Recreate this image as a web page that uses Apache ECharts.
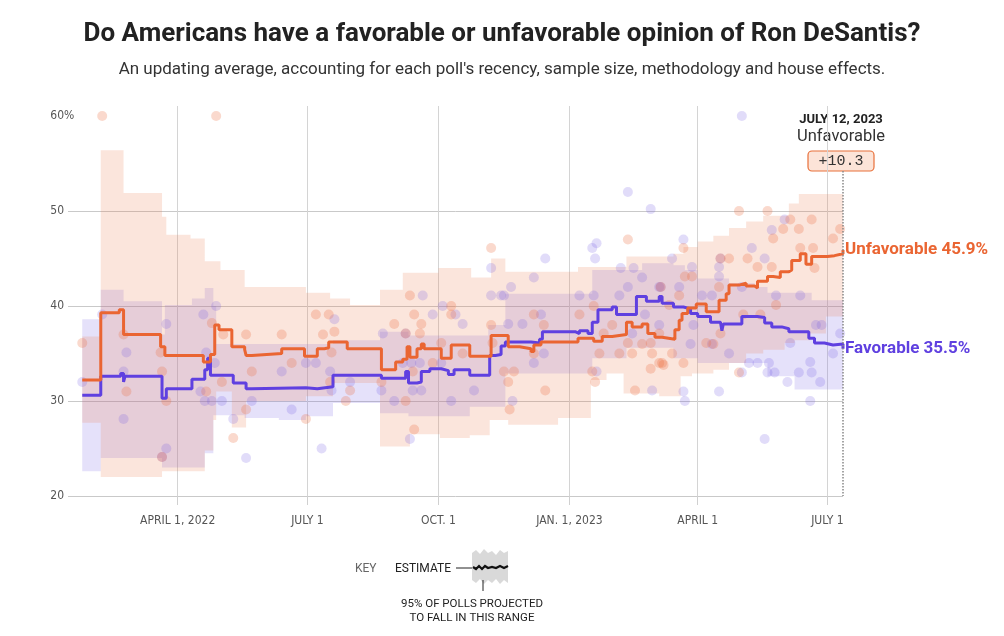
<!DOCTYPE html>
<html><head><meta charset="utf-8">
<script src="https://cdn.jsdelivr.net/npm/echarts@6/dist/echarts.min.js"></script>
<style>html,body{margin:0;padding:0;background:#fff}#chart{width:1004px;height:636px}</style>
</head><body><div id="chart"></div>
<script>
// ---------- DATA ----------
const tickDates  = ['2022-04-01','2022-07-01','2022-10-01','2023-01-01','2023-04-01','2023-07-01'];
const tickLabels = ['APRIL 1, 2022','JULY 1','OCT. 1','JAN. 1, 2023','APRIL 1','JULY 1'];
const yTicks = [20, 30, 40, 50, 60];
const startDate = '2022-01-14';
const endDate = '2023-07-12';
const endLabelDate = 'JULY 12, 2023';
const leaderName = 'Unfavorable';
const leaderMargin = '+10.3';

const unfavLine = [['2022-01-24',32.2],['2022-02-06',39.3],['2022-02-19',39.6],['2022-02-22',37.0],['2022-03-20',35.7],['2022-03-23',34.8],['2022-04-19',34.1],['2022-04-24',34.9],['2022-04-27',38.0],['2022-04-30',37.5],['2022-05-09',35.7],['2022-05-18',35.4],['2022-05-19',34.8],['2022-05-23',35.0],['2022-06-13',35.5],['2022-06-29',34.7],['2022-07-08',35.5],['2022-07-13',35.6],['2022-07-16',36.2],['2022-07-29',35.5],['2022-08-22',33.3],['2022-09-01',34.1],['2022-09-06',34.4],['2022-09-09',35.7],['2022-09-11',34.6],['2022-09-16',35.5],['2022-09-19',36.0],['2022-09-21',35.5],['2022-10-03',34.5],['2022-10-10',35.9],['2022-10-23',34.7],['2022-11-07',36.9],['2022-11-19',35.7],['2022-11-27',35.5],['2022-12-05',35.2],['2022-12-07',35.9],['2022-12-12',36.2],['2023-01-07',36.6],['2023-01-18',36.3],['2023-01-24',36.8],['2023-01-31',37.0],['2023-02-10',38.3],['2023-02-14',37.8],['2023-02-21',38.1],['2023-02-25',37.1],['2023-03-02',36.7],['2023-03-07',36.5],['2023-03-16',37.5],['2023-03-19',38.5],['2023-03-21',39.2],['2023-03-25',39.8],['2023-03-31',40.2],['2023-04-07',39.4],['2023-04-16',40.6],['2023-04-21',41.3],['2023-04-23',42.2],['2023-04-30',42.4],['2023-05-05',42.1],['2023-05-11',41.9],['2023-05-13',42.6],['2023-05-20',43.1],['2023-05-24',43.0],['2023-05-29',43.6],['2023-06-04',43.8],['2023-06-06',44.8],['2023-06-12',45.5],['2023-06-16',44.4],['2023-06-20',45.2],['2023-07-01',45.3],['2023-07-06',45.5],['2023-07-12',45.9]];

const favLine = [['2022-01-24',30.6],['2022-02-06',32.6],['2022-02-20',32.9],['2022-02-22',32.0],['2022-02-23',32.6],['2022-03-21',30.3],['2022-03-24',31.3],['2022-04-11',32.3],['2022-04-20',33.3],['2022-04-22',34.5],['2022-04-24',32.7],['2022-05-10',31.9],['2022-05-19',31.3],['2022-05-23',31.4],['2022-06-30',31.3],['2022-07-08',31.5],['2022-07-19',32.7],['2022-08-22',32.4],['2022-09-08',33.1],['2022-09-10',31.9],['2022-09-16',32.0],['2022-09-19',33.1],['2022-09-25',33.4],['2022-10-03',33.2],['2022-10-08',32.8],['2022-10-12',33.3],['2022-10-23',32.7],['2022-11-06',34.8],['2022-11-10',34.9],['2022-11-14',35.8],['2022-11-17',36.2],['2022-12-05',36.1],['2022-12-11',36.5],['2022-12-13',37.3],['2023-01-05',37.1],['2023-01-08',37.4],['2023-01-14',37.1],['2023-01-17',38.3],['2023-01-21',39.6],['2023-01-31',39.9],['2023-02-03',39.1],['2023-02-17',41.0],['2023-02-24',40.5],['2023-03-05',41.0],['2023-03-07',40.3],['2023-03-15',39.9],['2023-03-22',39.7],['2023-03-27',39.2],['2023-04-01',38.9],['2023-04-10',38.3],['2023-04-17',38.1],['2023-04-18',37.4],['2023-04-19',38.1],['2023-05-02',38.9],['2023-05-13',38.8],['2023-05-18',38.2],['2023-05-23',37.8],['2023-05-30',37.6],['2023-06-04',37.3],['2023-06-18',36.6],['2023-06-22',36.1],['2023-06-29',35.9],['2023-07-05',36.0],['2023-07-12',35.5]];

const unfavUpper = [['2022-01-24',36.8],['2022-02-06',56.4],['2022-02-22',51.9],['2022-03-21',49.4],['2022-03-24',47.5],['2022-04-10',47.1],['2022-04-20',44.7],['2022-05-01',43.8],['2022-05-18',42.0],['2022-06-30',41.4],['2022-07-17',40.8],['2022-07-31',40.1],['2022-08-21',41.7],['2022-09-06',43.5],['2022-10-01',44.0],['2022-10-24',43.0],['2022-11-07',45.0],['2022-11-17',43.6],['2023-01-07',44.1],['2023-02-10',45.2],['2023-03-15',45.5],['2023-03-22',46.2],['2023-04-01',46.8],['2023-04-12',47.4],['2023-04-23',48.2],['2023-05-05',48.9],['2023-05-17',49.5],['2023-06-04',50.8],['2023-06-11',51.8],['2023-07-12',51.8]];
const unfavLower = [['2022-01-24',27.7],['2022-02-06',22.0],['2022-03-21',22.6],['2022-04-20',24.8],['2022-04-26',28.0],['2022-04-28',31.0],['2022-05-09',27.2],['2022-05-19',30.0],['2022-06-30',30.5],['2022-07-19',31.9],['2022-08-21',25.2],['2022-09-11',26.5],['2022-10-02',26.1],['2022-10-23',26.4],['2022-11-06',28.0],['2022-11-19',27.5],['2022-12-24',28.2],['2023-01-16',32.2],['2023-01-27',32.9],['2023-02-08',30.8],['2023-03-05',30.5],['2023-03-20',32.6],['2023-03-28',32.9],['2023-04-12',33.3],['2023-04-23',34.0],['2023-05-05',35.0],['2023-05-17',35.4],['2023-06-01',36.1],['2023-06-08',36.4],['2023-06-19',37.1],['2023-06-30',38.9],['2023-07-12',39.2]];
const favUpper = [['2022-01-24',38.6],['2022-02-06',41.7],['2022-02-22',40.5],['2022-03-21',37.0],['2022-03-23',40.1],['2022-04-11',40.8],['2022-04-20',41.9],['2022-04-26',40.0],['2022-04-28',36.0],['2022-07-19',36.4],['2022-08-21',37.3],['2022-09-10',36.9],['2022-11-05',38.0],['2022-11-17',41.3],['2023-01-17',43.8],['2023-02-21',44.5],['2023-03-15',44.3],['2023-03-23',43.8],['2023-04-01',42.9],['2023-04-23',42.4],['2023-05-11',42.0],['2023-05-20',41.4],['2023-06-20',40.6],['2023-07-12',40.6]];
const favLower = [['2022-01-24',22.6],['2022-02-06',24.0],['2022-03-21',23.0],['2022-04-20',24.5],['2022-04-26',28.5],['2022-05-18',28.2],['2022-06-11',28.0],['2022-06-30',28.4],['2022-07-19',29.8],['2022-08-21',28.7],['2022-09-10',28.4],['2022-10-23',29.4],['2022-11-17',32.9],['2023-01-17',34.5],['2023-02-10',35.6],['2023-03-15',34.5],['2023-04-01',34.0],['2023-05-20',32.6],['2023-06-08',31.2],['2023-07-12',31.2]];

const unfavPolls = [['2022-01-24',36.1],['2022-02-07',60.0],['2022-02-22',37.0],['2022-02-24',31.0],['2022-03-20',35.1],['2022-03-21',33.1],['2022-03-24',30.0],['2022-03-21',24.1],['2022-04-25',38.2],['2022-04-28',60.0],['2022-05-03',37.0],['2022-04-21',31.0],['2022-05-02',32.0],['2022-05-19',37.0],['2022-05-23',33.1],['2022-05-19',29.1],['2022-05-10',26.1],['2022-06-13',37.0],['2022-06-20',34.0],['2022-06-30',28.1],['2022-07-07',39.1],['2022-07-16',39.1],['2022-07-12',37.0],['2022-07-20',37.3],['2022-07-18',35.1],['2022-07-31',31.1],['2022-07-28',30.0],['2022-07-17',32.0],['2022-08-22',32.0],['2022-08-31',38.1],['2022-09-11',41.1],['2022-09-14',39.1],['2022-09-19',38.1],['2022-09-18',37.1],['2022-09-08',37.1],['2022-09-13',33.1],['2022-09-08',30.0],['2022-09-14',27.0],['2022-09-27',34.0],['2022-10-03',36.1],['2022-10-10',40.0],['2022-10-10',39.1],['2022-10-18',35.0],['2022-11-07',46.1],['2022-11-07',38.0],['2022-12-07',39.1],['2022-12-14',38.0],['2022-11-08',36.1],['2022-11-19',32.0],['2022-11-16',33.1],['2022-11-23',33.1],['2022-11-20',29.1],['2022-12-15',31.1],['2022-12-07',35.0],['2023-01-19',32.0],['2023-01-17',33.1],['2023-01-22',35.0],['2023-01-25',37.1],['2023-01-31',38.0],['2023-02-05',35.0],['2023-02-14',35.0],['2023-02-11',47.0],['2023-02-11',36.1],['2023-02-16',31.1],['2023-02-21',36.0],['2023-02-27',36.1],['2023-02-28',35.0],['2023-03-05',34.0],['2023-02-27',33.4],['2023-03-08',33.8],['2023-01-08',39.1],['2023-01-18',40.0],['2023-04-30',50.0],['2023-05-20',50.0],['2023-06-05',49.1],['2023-06-20',49.1],['2023-07-10',48.1],['2023-05-31',48.1],['2023-06-11',48.1],['2023-05-24',47.1],['2023-07-05',47.1],['2023-06-12',46.1],['2023-06-21',46.1],['2023-04-17',45.0],['2023-04-23',45.0],['2023-05-06',45.0],['2023-05-13',44.1],['2023-05-23',44.1],['2023-06-22',44.0],['2023-03-22',46.1],['2023-03-23',43.1],['2023-03-28',43.1],['2023-04-16',42.0],['2023-05-26',40.1],['2023-03-12',40.1],['2023-03-06',42.0],['2023-03-19',41.1],['2023-05-03',39.1],['2023-05-15',39.1],['2023-04-07',36.1],['2023-03-14',35.0],['2023-03-07',34.0],['2023-03-22',34.0],['2023-04-30',33.0],['2023-04-17',37.1],['2023-04-12',36.0],['2023-03-05',37.1]];

const favPolls = [['2022-01-24',32.0],['2022-02-07',39.1],['2022-02-24',35.1],['2022-02-22',33.1],['2022-02-22',28.1],['2022-03-24',38.1],['2022-03-24',25.0],['2022-03-21',24.1],['2022-04-28',40.0],['2022-04-19',39.1],['2022-04-21',35.1],['2022-04-27',34.0],['2022-04-17',31.0],['2022-04-20',30.0],['2022-04-25',30.0],['2022-05-02',30.0],['2022-05-10',28.1],['2022-05-19',24.0],['2022-05-23',30.0],['2022-06-13',33.1],['2022-06-20',29.1],['2022-06-30',34.0],['2022-07-11',25.0],['2022-07-20',38.6],['2022-07-17',33.1],['2022-07-18',31.1],['2022-07-31',32.0],['2022-07-07',34.0],['2022-08-23',37.1],['2022-08-22',31.1],['2022-08-31',30.0],['2022-09-08',37.1],['2022-09-06',34.0],['2022-09-12',34.0],['2022-09-18',34.0],['2022-09-13',31.1],['2022-09-19',31.1],['2022-09-20',41.1],['2022-09-11',26.0],['2022-09-27',39.1],['2022-10-04',40.0],['2022-10-13',39.1],['2022-10-18',38.1],['2022-10-10',30.0],['2022-10-03',34.0],['2022-11-07',44.0],['2022-11-07',41.1],['2022-11-14',41.1],['2022-11-16',41.1],['2022-11-21',42.0],['2022-12-07',43.0],['2022-12-15',45.0],['2022-12-12',39.1],['2022-11-29',38.1],['2022-11-19',38.1],['2022-12-14',35.0],['2022-12-07',34.0],['2022-10-26',31.1],['2022-11-22',30.0],['2023-01-08',41.1],['2023-01-18',41.1],['2023-01-17',46.1],['2023-01-20',46.6],['2023-01-19',45.0],['2023-02-11',52.0],['2023-02-27',50.2],['2023-02-06',44.0],['2023-02-15',44.0],['2023-02-21',43.0],['2023-02-11',42.0],['2023-02-05',41.1],['2023-03-06',42.0],['2023-02-23',39.1],['2023-03-05',38.0],['2023-02-14',37.1],['2023-01-20',33.1],['2023-02-28',31.1],['2023-05-02',60.0],['2023-03-22',47.0],['2023-03-14',45.0],['2023-03-28',44.1],['2023-04-17',45.0],['2023-04-16',44.1],['2023-04-16',43.1],['2023-05-09',46.1],['2023-05-18',45.0],['2023-05-23',48.0],['2023-06-01',49.1],['2023-05-02',42.0],['2023-04-04',41.1],['2023-04-11',41.1],['2023-03-19',42.0],['2023-03-05',42.0],['2023-03-29',38.0],['2023-05-26',41.1],['2023-06-12',41.1],['2023-06-23',38.0],['2023-06-27',38.0],['2023-07-10',37.1],['2023-07-05',35.0],['2023-06-05',36.1],['2023-06-19',34.1],['2023-06-11',33.0],['2023-06-20',33.0],['2023-06-26',32.0],['2023-06-03',32.0],['2023-05-07',34.0],['2023-05-13',34.0],['2023-05-21',34.0],['2023-05-20',33.0],['2023-05-25',33.0],['2023-05-02',33.0],['2023-04-23',35.0],['2023-04-16',31.0],['2023-03-22',31.0],['2023-03-23',30.0],['2023-06-19',30.0],['2023-05-18',26.0],['2023-04-11',36.0],['2023-03-27',36.0]];

// ---------- STYLE ----------
const ORANGE = '#EA6532', PURPLE = '#5F40E0';
const COND = "'Liberation Sans Narrow','DejaVu Sans Condensed','Roboto Condensed',Roboto,sans-serif";
const SANS = "Roboto,'Noto Sans',sans-serif";

const T = s => new Date(s + 'T00:00:00').getTime();
const toXY = arr => arr.map(d => [T(d[0]), d[1]]);

function stepPoints(seq, api, reverse) {
  const pts = [];
  for (let i = 0; i < seq.length; i++) {
    const x0 = T(seq[i][0]);
    const x1 = i + 1 < seq.length ? T(seq[i + 1][0]) : x0;
    pts.push(api.coord([x0, seq[i][1]]));
    if (x1 !== x0) pts.push(api.coord([x1, seq[i][1]]));
  }
  return reverse ? pts.reverse() : pts;
}
function band(name, upper, lower, fill) {
  return {
    type: 'custom', name: name, silent: true,
    data: [[T(upper[0][0]), upper[0][1]]],
    renderItem: function (params, api) {
      return {
        type: 'polygon',
        shape: { points: stepPoints(upper, api, false).concat(stepPoints(lower, api, true)) },
        style: { fill: fill }
      };
    }
  };
}
const endFmt = p => p.seriesName + ' ' + p.value[1].toFixed(1) + '%';

const chart = echarts.init(document.getElementById('chart'), null, { renderer: 'canvas' });
chart.setOption({
  animation: false,
  backgroundColor: '#fff',
  title: [
    { text: 'Do Americans have a favorable or unfavorable opinion of Ron DeSantis?', left: 'center', top: 16,
      textStyle: { fontFamily: SANS, fontSize: 26, fontWeight: 'bold', color: '#222' } },
    { text: "An updating average, accounting for each poll's recency, sample size, methodology and house effects.", left: 'center', top: 56,
      textStyle: { fontFamily: SANS, fontSize: 17, fontWeight: 'normal', color: '#333' } }
  ],
  grid: { left: 68, right: 161, top: 106, bottom: 140, containLabel: false },
  xAxis: {
    type: 'value', min: T(startDate), max: T(endDate),
    axisLine: { show: false },
    axisTick: { show: true, customValues: tickDates.map(T), length: 9, lineStyle: { color: '#d0d0d0' } },
    axisLabel: {
      customValues: tickDates.map(T), color: '#555', fontFamily: COND, fontSize: 12, margin: 19,
      formatter: function (v) { const i = tickDates.findIndex(d => T(d) === v); return i >= 0 ? tickLabels[i] : ''; }
    },
    splitLine: { show: true, lineStyle: { color: '#d4d4d4', width: 1 } }
  },
  yAxis: {
    type: 'value', min: 20, max: 60 + 10 / 9.5, interval: 10,
    axisLine: { show: false },
    axisTick: { show: false, customValues: yTicks },
    axisLabel: { customValues: yTicks, color: '#555', fontFamily: COND, fontSize: 12, margin: 4 },
    splitLine: { show: true, showMaxLine: false, lineStyle: { color: '#c9c9c9', width: 1 } }
  },
  series: [
    band('favBand', favUpper, favLower, 'rgba(125,105,230,0.2)'),
    band('unfavBand', unfavUpper, unfavLower, 'rgba(235,125,80,0.2)'),
    { type: 'scatter', name: 'favPolls', data: toXY(favPolls), symbolSize: 10, silent: true,
      itemStyle: { color: 'rgba(110,85,225,0.26)' } },
    { type: 'scatter', name: 'unfavPolls', data: toXY(unfavPolls), symbolSize: 10, silent: true,
      itemStyle: { color: 'rgba(236,110,60,0.32)' } },
    { type: 'line', name: 'Favorable', data: toXY(favLine), step: 'end', showSymbol: false, silent: true,
      lineStyle: { color: PURPLE, width: 3 }, itemStyle: { color: PURPLE },
      endLabel: { show: true, distance: 2, color: PURPLE, fontFamily: SANS, fontWeight: 'bold', fontSize: 17, formatter: endFmt } },
    { type: 'line', name: 'Unfavorable', data: toXY(unfavLine), step: 'end', showSymbol: false, silent: true,
      lineStyle: { color: ORANGE, width: 3 }, itemStyle: { color: ORANGE },
      endLabel: { show: true, distance: 2, color: ORANGE, fontFamily: SANS, fontWeight: 'bold', fontSize: 17, formatter: endFmt },
      markLine: { silent: true, symbol: ['none', 'none'], label: { show: false },
        lineStyle: { type: 'dotted', color: '#888', width: 1.5 },
        data: [[{ coord: [T(endDate), 54.2] }, { coord: [T(endDate), 20] }]] } }
  ],
  graphic: [
    { type: 'text', x: 64, y: 116, style: { text: '%', fill: '#555', font: '12px ' + COND, textVerticalAlign: 'middle', textAlign: 'left' } },
    { type: 'text', x: 841, y: 120, style: { text: endLabelDate, fill: '#222', font: 'bold 13px ' + SANS, textAlign: 'center', textVerticalAlign: 'middle' } },
    { type: 'text', x: 841, y: 137, style: { text: leaderName, fill: '#333', font: '16.5px ' + SANS, textAlign: 'center', textVerticalAlign: 'middle' } },
    { type: 'rect', shape: { x: 808, y: 151, width: 66, height: 20, r: 4 }, style: { fill: '#FCE4D8', stroke: '#E8703A', lineWidth: 1.2 } },
    { type: 'text', x: 841, y: 161.5, style: { text: leaderMargin, fill: '#333', font: "15px 'Liberation Mono','DejaVu Sans Mono',monospace", textAlign: 'center', textVerticalAlign: 'middle' } },
    // key
    { type: 'text', x: 355, y: 569, style: { text: 'KEY', fill: '#666', font: '12px ' + SANS, textVerticalAlign: 'middle' } },
    { type: 'text', x: 395, y: 569, style: { text: 'ESTIMATE', fill: '#222', font: '12px ' + SANS, textVerticalAlign: 'middle' } },
    { type: 'line', shape: { x1: 456, y1: 568, x2: 473, y2: 568 }, style: { stroke: '#222', lineWidth: 1 } },
    { type: 'polygon', shape: { points: [[472,553],[476,550],[480,554],[484,549],[488,553],[492,551],[496,555],[500,550],[504,553],[508,551],[508,583],[504,580],[500,584],[496,579],[492,583],[488,580],[484,584],[480,579],[476,583],[472,580]] },
      style: { fill: '#d9d9d9' } },
    { type: 'polyline', shape: { points: [[473,567],[476,569],[479,566],[482,569],[485,566],[488,568],[492,567],[496,568],[500,566],[504,568],[508,566]] },
      style: { stroke: '#111', lineWidth: 2.2, fill: null } },
    { type: 'line', shape: { x1: 483, y1: 580, x2: 483, y2: 591 }, style: { stroke: '#222', lineWidth: 1 } },
    { type: 'text', x: 472, y: 604, style: { text: '95% OF POLLS PROJECTED', fill: '#222', font: '11.5px ' + SANS, textAlign: 'center', textVerticalAlign: 'middle' } },
    { type: 'text', x: 472, y: 618, style: { text: 'TO FALL IN THIS RANGE', fill: '#222', font: '11.5px ' + SANS, textAlign: 'center', textVerticalAlign: 'middle' } }
  ]
});
</script>
</body></html>
